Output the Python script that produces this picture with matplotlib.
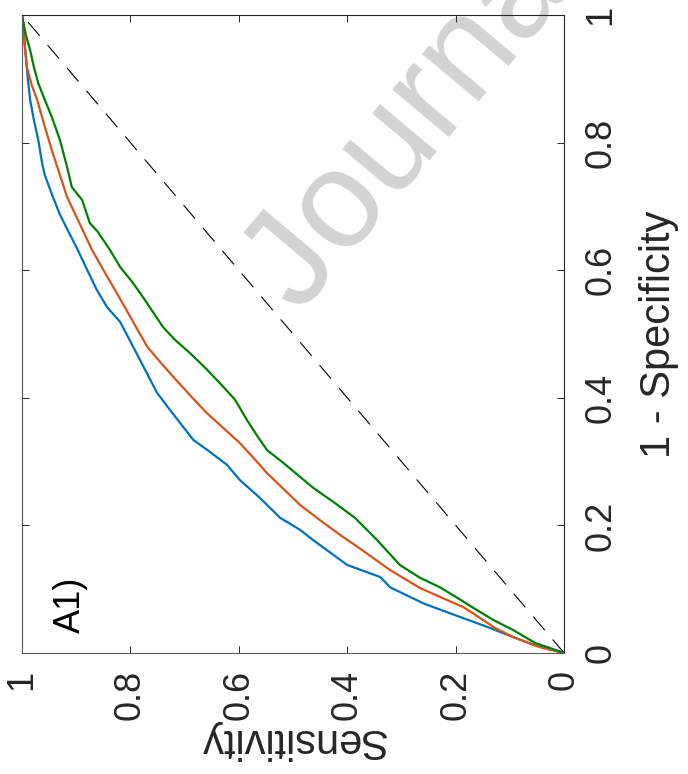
import matplotlib.pyplot as plt

plt.rcParams['font.family'] = ['Liberation Sans', 'DejaVu Sans']

# ROC curves: 1 - specificity (fpr) and sensitivity (tpr)
fpr_blue = [1.000, 0.969, 0.945, 0.898, 0.867, 0.835, 0.804, 0.768, 0.749, 0.715,
            0.687, 0.655, 0.635, 0.608, 0.569, 0.542, 0.519, 0.480, 0.444, 0.408,
            0.381, 0.334, 0.315, 0.295, 0.271, 0.243, 0.212, 0.193, 0.177, 0.138,
            0.119, 0.103, 0.078, 0.064, 0.041, 0.025, 0.013, 0.0]
tpr_blue = [1.000, 0.996, 0.994, 0.989, 0.985, 0.978, 0.970, 0.963, 0.958, 0.943,
            0.930, 0.911, 0.899, 0.884, 0.862, 0.843, 0.819, 0.795, 0.773, 0.751,
            0.727, 0.684, 0.653, 0.622, 0.598, 0.561, 0.524, 0.487, 0.463, 0.400,
            0.339, 0.321, 0.260, 0.216, 0.142, 0.094, 0.057, 0.0]

fpr_orange = [1.000, 0.961, 0.918, 0.890, 0.867, 0.828, 0.788, 0.749, 0.715, 0.679,
              0.632, 0.596, 0.564, 0.519, 0.480, 0.456, 0.433, 0.404, 0.376, 0.353,
              0.329, 0.303, 0.282, 0.255, 0.232, 0.208, 0.185, 0.158, 0.130, 0.102,
              0.088, 0.072, 0.060, 0.039, 0.025, 0.009, 0.0]
tpr_orange = [1.000, 0.996, 0.991, 0.982, 0.972, 0.959, 0.945, 0.930, 0.917, 0.897,
              0.871, 0.847, 0.825, 0.795, 0.769, 0.745, 0.721, 0.690, 0.659, 0.629,
              0.598, 0.570, 0.548, 0.515, 0.487, 0.450, 0.413, 0.367, 0.321, 0.266,
              0.229, 0.186, 0.164, 0.127, 0.094, 0.044, 0.0]

fpr_green = [1.000, 0.969, 0.945, 0.918, 0.893, 0.867, 0.840, 0.804, 0.762, 0.730,
             0.710, 0.674, 0.660, 0.632, 0.605, 0.582, 0.558, 0.511, 0.491, 0.470,
             0.447, 0.423, 0.397, 0.365, 0.339, 0.318, 0.298, 0.276, 0.259, 0.237,
             0.212, 0.177, 0.138, 0.118, 0.103, 0.086, 0.071, 0.052, 0.036, 0.016, 0.0]
tpr_green = [1.000, 0.993, 0.985, 0.978, 0.970, 0.958, 0.945, 0.930, 0.917, 0.908,
             0.889, 0.875, 0.860, 0.838, 0.819, 0.797, 0.777, 0.740, 0.718, 0.690,
             0.662, 0.635, 0.607, 0.585, 0.565, 0.548, 0.518, 0.487, 0.463, 0.426,
             0.386, 0.345, 0.303, 0.266, 0.229, 0.196, 0.168, 0.131, 0.094, 0.054, 0.0]

ticks = [0, 0.2, 0.4, 0.6, 0.8, 1]
tick_labels = ['0', '0.2', '0.4', '0.6', '0.8', '1']

fig = plt.figure(figsize=(6.88, 7.74), dpi=100)

# watermark behind the plot
fig.text(0.436, 0.593, 'Journal Pre-proof', rotation=50, rotation_mode='anchor',
         ha='left', va='baseline', fontsize=100, color='#d3d3d3', zorder=-1)

ax = fig.add_axes([0.032, 0.1563, 0.788, 0.8243])
ax.set_facecolor('none')

# figure is turned a quarter turn: sensitivity runs along x (reversed), fpr up y
ax.plot([0, 1], [0, 1], color='black', lw=0.8, dashes=(16, 11))
ax.plot(tpr_blue, fpr_blue, color='#0072BD', lw=1.6)
ax.plot(tpr_orange, fpr_orange, color='#D95319', lw=1.6)
ax.plot(tpr_green, fpr_green, color='#008000', lw=1.6)

ax.set_xlim(1, 0)
ax.set_ylim(0, 1)
ax.set_xticks(ticks)
ax.set_xticklabels(tick_labels, rotation=90, fontsize=26)
ax.set_yticks(ticks)
ax.yaxis.tick_right()
ax.set_yticklabels(tick_labels, rotation=90, va='center', fontsize=26)
ax.tick_params(direction='in', length=5, width=0.7, top=True, bottom=True,
               left=True, right=True, colors='#262626')
ax.tick_params(axis='x', pad=12)
ax.tick_params(axis='y', pad=14)

for side, s in ax.spines.items():
    s.set_linewidth(0.8)
    s.set_color('#262626' if side in ('top', 'right') else '#5a5a5a')

ax.set_xlabel('Sensitivity', fontsize=30, rotation=180, labelpad=0, color='#262626')
ax.yaxis.set_label_position('right')
ax.set_ylabel('1 - Specificity', fontsize=30, rotation=90, labelpad=15, color='#262626')

ax.text(0.893, 0.031, 'A1)', rotation=90, rotation_mode='anchor', ha='left',
        va='baseline', fontsize=26, color='black')

fig.savefig('out.png', dpi=100)
